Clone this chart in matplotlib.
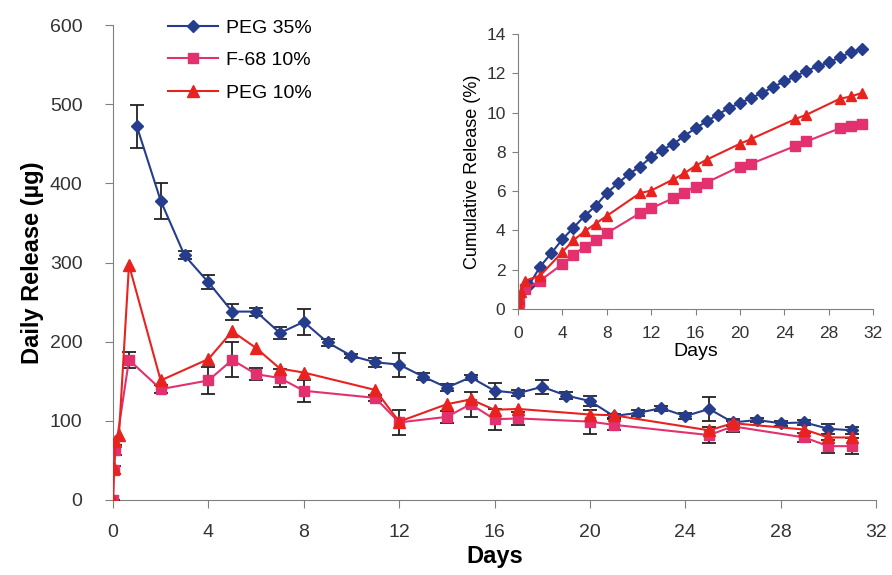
import matplotlib.pyplot as plt
from matplotlib.lines import Line2D
import numpy as np

plt.rcParams['font.family'] = ['Liberation Sans', 'DejaVu Sans']

# daily release (ug)
peg35_days = [1, 2, 3, 4, 5, 6, 7, 8, 9, 10, 11, 12, 13, 14, 15, 16,
              17, 18, 19, 20, 21, 22, 23, 24, 25, 26, 27, 28, 29, 30, 31]
peg35_vals = [472, 378, 309, 275, 238, 238, 211, 225, 199, 182, 174, 171, 156, 142, 155, 138,
              135, 143, 132, 125, 106, 110, 116, 106, 115, 98, 101, 97, 98, 90, 88]
peg35_err = [27, 23, 5, 9, 10, 5, 8, 16, 5, 3, 6, 15, 4, 4, 3, 10,
             4, 9, 5, 6, 3, 4, 3, 4, 15, 4, 3, 3, 3, 6, 4]

f68_days = [0, 0.04, 0.1, 0.67, 2, 4, 5, 6, 7, 8, 11, 12, 14, 15, 16, 17, 20, 21, 25, 26, 29, 30, 31]
f68_vals = [0, 38, 63, 177, 140, 151, 177, 159, 154, 138, 129, 98, 105, 121, 102, 103, 99, 95, 82, 93, 79, 68, 68]
f68_err = [0, 5, 6, 10, 5, 17, 22, 8, 11, 14, 4, 16, 8, 16, 13, 8, 15, 7, 10, 7, 6, 8, 10]

peg10_days = [0, 0.04, 0.1, 0.25, 0.67, 2, 4, 5, 6, 7, 8, 11, 12, 14, 15, 16, 17, 20, 21, 25, 26, 29, 30, 31]
peg10_vals = [0, 40, 74, 82, 297, 151, 178, 213, 192, 166, 161, 139, 99, 121, 127, 114, 115, 108, 107, 88, 97, 89, 79, 79]

# cumulative release (%)
cum_peg35_days = [0] + peg35_days
cum_peg35 = [0, 1.22, 2.16, 2.84, 3.55, 4.14, 4.74, 5.25, 5.9, 6.4, 6.87, 7.25, 7.73, 8.1, 8.4, 8.82,
             9.2, 9.55, 9.89, 10.23, 10.48, 10.74, 11.0, 11.3, 11.59, 11.84, 12.13, 12.35, 12.55,
             12.81, 13.07, 13.25]
cum_f68 = [0, 0.15, 0.35, 1.0, 1.45, 2.28, 2.75, 3.18, 3.52, 3.86, 4.88, 5.13, 5.64, 5.93, 6.23,
           6.44, 7.25, 7.39, 8.3, 8.53, 9.2, 9.33, 9.43]
cum_peg10 = [0, 0.2, 0.5, 0.85, 1.45, 1.7, 2.9, 3.5, 3.95, 4.35, 4.74, 5.9, 6.03, 6.6, 6.91, 7.29,
             7.6, 8.41, 8.65, 9.67, 9.89, 10.7, 10.82, 11.0]

BLUE = '#263d8e'
PINK = '#e3306f'
RED = '#e8231f'
GRAY = '#808080'

fig = plt.figure(figsize=(8.92, 5.75), dpi=100)
ax = fig.add_axes([113 / 892, 75 / 575, 763 / 892, 475 / 575])

ax.errorbar(peg35_days, peg35_vals, yerr=peg35_err, color=BLUE, marker='D', ms=6.5, lw=1.5,
            ecolor='#222222', elinewidth=1.3, capsize=5, capthick=1.3, zorder=3)
ax.errorbar(f68_days, f68_vals, yerr=f68_err, color=PINK, marker='s', ms=7, lw=1.5,
            ecolor='#222222', elinewidth=1.3, capsize=5, capthick=1.3, zorder=3)
ax.plot(peg10_days, peg10_vals, color=RED, marker='^', ms=8, lw=1.5, zorder=4)

ax.set_xlim(0, 32)
ax.set_ylim(0, 600)
ax.set_xticks(np.arange(0, 33, 4))
ax.set_yticks(np.arange(0, 601, 100))
for s in ['top', 'right']:
    ax.spines[s].set_visible(False)
for s in ['left', 'bottom']:
    ax.spines[s].set_color(GRAY)
ax.tick_params(colors=GRAY, labelcolor='#333333', labelsize=14, length=6, direction='out')
ax.tick_params(axis='x', pad=11)
ax.tick_params(axis='y', pad=16)
ax.set_xlabel('Days', fontsize=17, fontweight='bold', labelpad=3)
ax.set_ylabel('Daily Release (µg)', fontsize=17, fontweight='bold', labelpad=4)

handles = [Line2D([], [], color=BLUE, marker='D', ms=6.5, lw=1.5),
           Line2D([], [], color=PINK, marker='s', ms=7, lw=1.5),
           Line2D([], [], color=RED, marker='^', ms=8, lw=1.5)]
labels = ['PEG 35%', 'F-68 10%', 'PEG 10%']
fig.legend(handles, labels, loc='upper left', bbox_to_anchor=(150 / 892, 1 - 2 / 575),
           frameon=False, fontsize=14, handlelength=2.6, labelspacing=0.75, handletextpad=0.4)

# inset
ins = fig.add_axes([518 / 892, 266 / 575, 355 / 892, 275 / 575])
ins.plot(cum_peg35_days, cum_peg35, color=BLUE, marker='D', ms=6, lw=1.5)
ins.plot(f68_days, cum_f68, color=PINK, marker='s', ms=6.5, lw=1.5)
ins.plot(peg10_days, cum_peg10, color=RED, marker='^', ms=7.5, lw=1.5)
ins.set_xlim(0, 32)
ins.set_ylim(0, 14)
ins.set_xticks(np.arange(0, 33, 4))
ins.set_yticks(np.arange(0, 15, 2))
for s in ['top', 'right']:
    ins.spines[s].set_visible(False)
for s in ['left', 'bottom']:
    ins.spines[s].set_color(GRAY)
ins.tick_params(colors=GRAY, labelcolor='#333333', labelsize=12.5, length=4, direction='out')
ins.tick_params(axis='x', pad=8)
ins.tick_params(axis='y', pad=5)
ins.set_xlabel('Days', fontsize=14, labelpad=2)
ins.set_ylabel('Cumulative Release (%)', fontsize=13, labelpad=4)

fig.savefig('out.png', dpi=100)
